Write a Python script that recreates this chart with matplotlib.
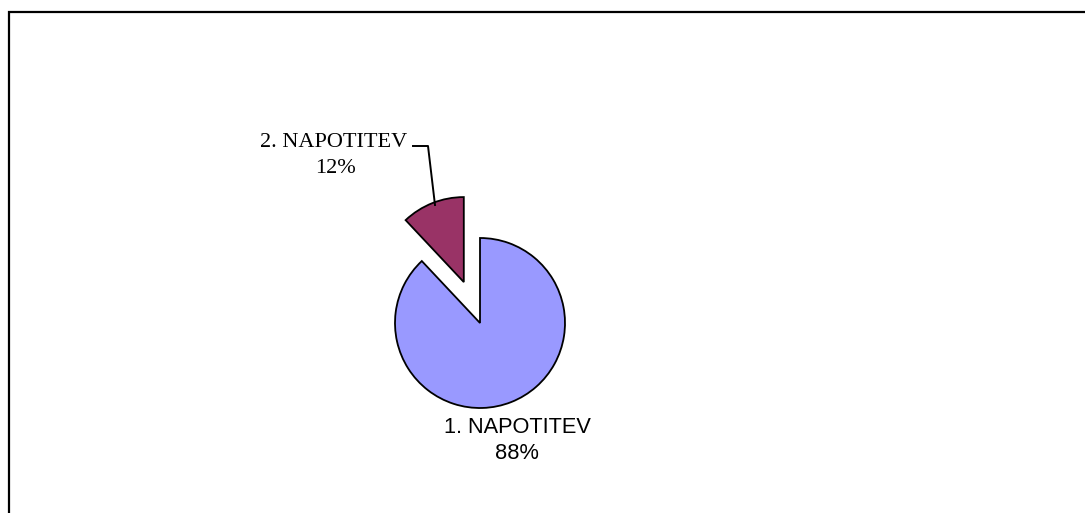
import matplotlib
matplotlib.use("Agg")
import matplotlib.pyplot as plt
from matplotlib.patches import Rectangle

categories = ["1. NAPOTITEV", "2. NAPOTITEV"]
shares = [88, 12]
colors = ["#9999FF", "#993366"]

W, H = 1085, 513
fig = plt.figure(figsize=(W / 100, H / 100), dpi=100)
ax = fig.add_axes([0, 0, 1, 1])
ax.set_xlim(0, W)
ax.set_ylim(0, H)
ax.set_aspect("equal")
ax.axis("off")

# outer chart border (extends past right and bottom edge)
ax.add_patch(Rectangle((9, -20), W + 20, H - 12 + 20, fill=False,
                       edgecolor="black", linewidth=1.6, clip_on=False))

cx, cy, r = 480, H - 323, 85
wedges, _ = ax.pie(shares, colors=colors, startangle=90, counterclock=False,
                   explode=[0, 44], center=(cx, cy), radius=r,
                   wedgeprops=dict(edgecolor="black", linewidth=1.3))
ax.set_xlim(0, W)
ax.set_ylim(0, H)

# label for slice 1 (sans-serif)
ax.text(517, H - 433, categories[0], ha="center", va="baseline",
        fontsize=15.7, family="Liberation Sans")
ax.text(517, H - 459, f"{shares[0]}%", ha="center", va="baseline",
        fontsize=15.7, family="Liberation Sans")

# label for slice 2 (serif) with leader line
ax.text(334, H - 147, categories[1], ha="center", va="baseline",
        fontsize=16, family="Liberation Serif")
ax.text(335, H - 173, f"{shares[1]}%", ha="center", va="baseline",
        fontsize=16, family="Liberation Serif")
ax.plot([413, 428, 435], [H - 146, H - 146, H - 205], color="black", linewidth=1.4)

fig.savefig("out.png", dpi=100)
